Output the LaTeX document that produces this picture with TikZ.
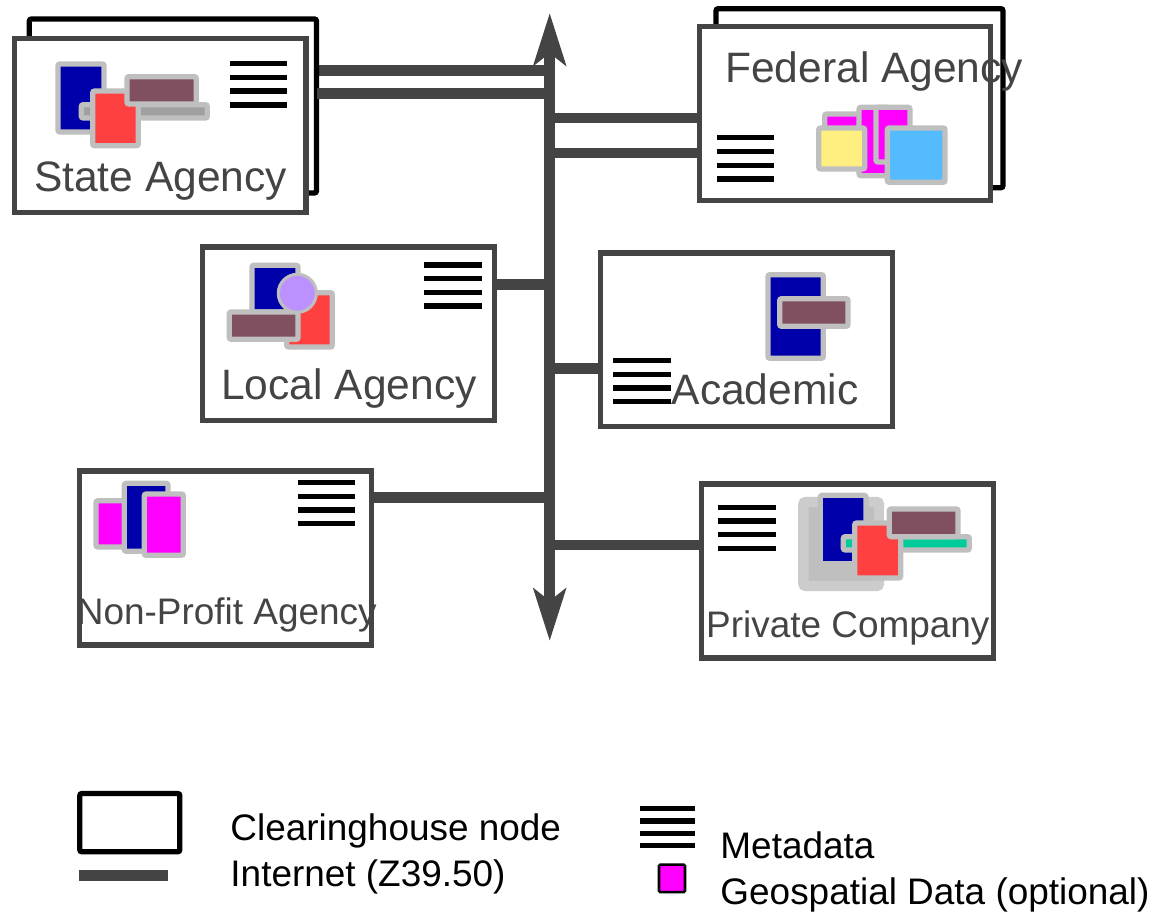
\documentclass[tikz,border=0pt]{standalone}
\usepackage{fontspec}
\setmainfont{Liberation Sans}
\usetikzlibrary{arrows.meta}

\definecolor{darkline}{HTML}{444444}
\definecolor{tileedge}{HTML}{BFBFBF}
\definecolor{navyfill}{HTML}{0000AA}
\definecolor{redfill}{HTML}{FF4040}
\definecolor{mauvefill}{HTML}{805060}
\definecolor{barfill}{HTML}{A0A0A0}
\definecolor{magentafill}{HTML}{FF00FF}
\definecolor{yellowfill}{HTML}{FFEE80}
\definecolor{skyfill}{HTML}{55BBFF}
\definecolor{lilacfill}{HTML}{BB90FF}
\definecolor{greenfill}{HTML}{00CC99}
\definecolor{shadowedge}{HTML}{CCCCCC}

\tikzset{
	boxsize/.style 2 args={minimum width=#1*0.75pt, minimum height=#2*0.75pt},
	hubbox/.style={draw=darkline, fill=white, line width=3.9pt, inner sep=0pt, outer sep=0pt},
	backbox/.style={draw=black, fill=white, line width=3.9pt, rounded corners=1.5pt, inner sep=0pt, outer sep=0pt},
	link/.style={draw=darkline, line width=8pt},
	tile/.style={draw=tileedge, line width=4pt, rounded corners=1.5pt},
	bigtext/.style={text=darkline, anchor=base, font=\fontsize{31.9}{36}\selectfont, inner sep=0pt},
	smalltext/.style={text=darkline, anchor=base, font=\fontsize{27.7}{32}\selectfont, inner sep=0pt},
	keytext/.style={text=black, anchor=base west, font=\fontsize{27.7}{32}\selectfont, inner sep=0pt},
}
% x, y of first line, width, gap
\newcommand{\metalines}[4]{
	\foreach \n in {0,1,2,3}
		\draw[black, line width=4pt] (#1,{#2+\n*#4}) -- ++(#3,0);
}

\begin{document}
\begin{tikzpicture}[x=0.75pt, y=-0.75pt]
	\useasboundingbox (0,0) rectangle (1156,912);

	\coordinate (bustop) at (549.7,13);
	\coordinate (busbottom) at (549.7,641);

	% state agency
	\draw[link] (300,70.3) coordinate (statetap) -- (bustop |- statetap);
	\node[backbox, boxsize={287.2}{174}] (stateback) at (172.9,106) {};
	\draw[link] (stateback.east |- 0,93.5) -- (bustop |- 0,93.5);
	\node[hubbox, boxsize={291.5}{174}] (state) at (160.25,125.5) {};
	\draw[tile, fill=navyfill] (58,64) rectangle (104,132);
	\draw[tile, fill=barfill] (81.3,104.7) rectangle (207.3,118);
	\draw[tile, fill=redfill] (92.7,91) rectangle (138.3,145.7);
	\draw[tile, fill=mauvefill] (127,76.7) rectangle (196.3,104);
	\metalines{230}{63.5}{57.3}{13.8}
	\node[bigtext] (statename) at (160.5,191.7) {State Agency};

	% federal agency
	\node[backbox, boxsize={287}{179}] (fedback) at (859.5,98.2) {};
	\draw[link] (bustop |- 0,118) -- (fedback.west |- 0,118);
	\draw[link] (bustop |- 0,153) -- (fedback.west |- 0,153);
	\node[hubbox, boxsize={291.4}{174}] (federal) at (845,113.7) {};
	\draw[tile, fill=magentafill] (824.7,114) rectangle (870,160);
	\draw[tile, fill=magentafill] (859,107.3) rectangle (888,175.7);
	\draw[tile, fill=magentafill] (876,107.3) rectangle (910,162);
	\draw[tile, fill=yellowfill] (818.7,128) rectangle (864.7,169);
	\draw[tile, fill=skyfill] (887.3,128) rectangle (945,182.3);
	\metalines{717}{137.7}{57.3}{13.8}
	\node[bigtext] (fedname) at (874.3,82.7) {Federal Agency};

	% local agency
	\node[hubbox, boxsize={291.8}{173.8}] (local) at (348.6,333.9) {};
	\draw[link] (local.east |- 0,284.5) -- (bustop |- 0,284.5);
	\draw[tile, fill=navyfill] (252,265.3) rectangle (298,312);
	\draw[tile, fill=redfill] (286.7,292.7) rectangle (332.3,347);
	\draw[tile, fill=mauvefill] (229.3,312) rectangle (298,339.3);
	\draw[draw=tileedge, line width=2.3pt, fill=lilacfill] (297.3,293.3) circle (19);
	\metalines{424.3}{265}{57.3}{13.7}
	\node[bigtext] (localname) at (349,399.3) {Local Agency};

	% academic
	\node[hubbox, boxsize={291.8}{173.5}] (academic) at (746.6,339.75) {};
	\draw[link] (bustop |- 0,368.7) -- (academic.west |- 0,368.7);
	\draw[tile, fill=navyfill] (768,274.7) rectangle (823.3,358.3);
	\draw[tile, fill=mauvefill] (779.7,298.7) rectangle (848,326.3);
	\metalines{613.3}{360.7}{57.3}{13.6}
	\node[bigtext] (academicname) at (765,404.3) {Academic};

	% non-profit
	\node[hubbox, boxsize={292}{174}] (nonprofit) at (225.8,558) {};
	\draw[link] (nonprofit.east |- 0,497.8) -- (bustop |- 0,497.8);
	\draw[tile, fill=magentafill] (96,500.8) rectangle (140,547);
	\draw[tile, fill=navyfill] (124.3,483.3) rectangle (168,551.3);
	\draw[tile, fill=magentafill] (144.3,494) rectangle (183.3,555.3);
	\metalines{297.7}{482.7}{57.3}{13.7}
	\node[smalltext] (nonprofitname) at (226.8,624.3) {Non-Profit Agency};

	% private company
	\node[hubbox, boxsize={291.7}{174}] (private) at (847.7,571) {};
	\draw[link] (bustop |- 0,545) -- (private.west |- 0,545);
	\draw[draw=shadowedge, line width=7.8pt, fill=tileedge, rounded corners=2pt] (803.3,502) rectangle (879,586);
	\draw[tile, fill=navyfill] (820.3,495.3) rectangle (866,563.7);
	\draw[tile, fill=greenfill] (843.3,536.7) rectangle (969.3,550);
	\draw[tile, fill=redfill] (854.7,523) rectangle (900.7,578);
	\draw[tile, fill=mauvefill] (889.3,509) rectangle (958,536.7);
	\metalines{718.3}{507.3}{57.3}{13.7}
	\node[smalltext] (privatename) at (847.8,637.3) {Private Company};

	% backbone
	\draw[link, {Stealth[length=39pt, width=24pt, inset=9pt]}-{Stealth[length=39pt, width=24pt, inset=9pt]}] (bustop) -- (busbottom);

	% key
	\node[backbox, boxsize={100}{58.3}] (keybox) at (129.8,822.65) {};
	\coordinate (keyleft) at (79.3,875.3);
	\coordinate (keyright) at (168.3,875.3);
	\draw[link] (keyleft) -- (keyright);
	\node[keytext] (keynode) at (230.2,840) {Clearinghouse node};
	\node[keytext] (keynet) at (230.2,886) {Internet (Z39.50)};
	\metalines{640}{808.7}{55}{12.35}
	\node[draw=black, fill=magentafill, line width=1.9pt, inner sep=0pt, outer sep=0pt, rounded corners=1pt, boxsize={26}{27.5}] (keydata) at (672,878.3) {};
	\node[keytext] (keymeta) at (720.2,858.5) {Metadata};
	\node[keytext] (keygeo) at (720.2,904.6) {Geospatial Data (optional)};
\end{tikzpicture}
\end{document}
